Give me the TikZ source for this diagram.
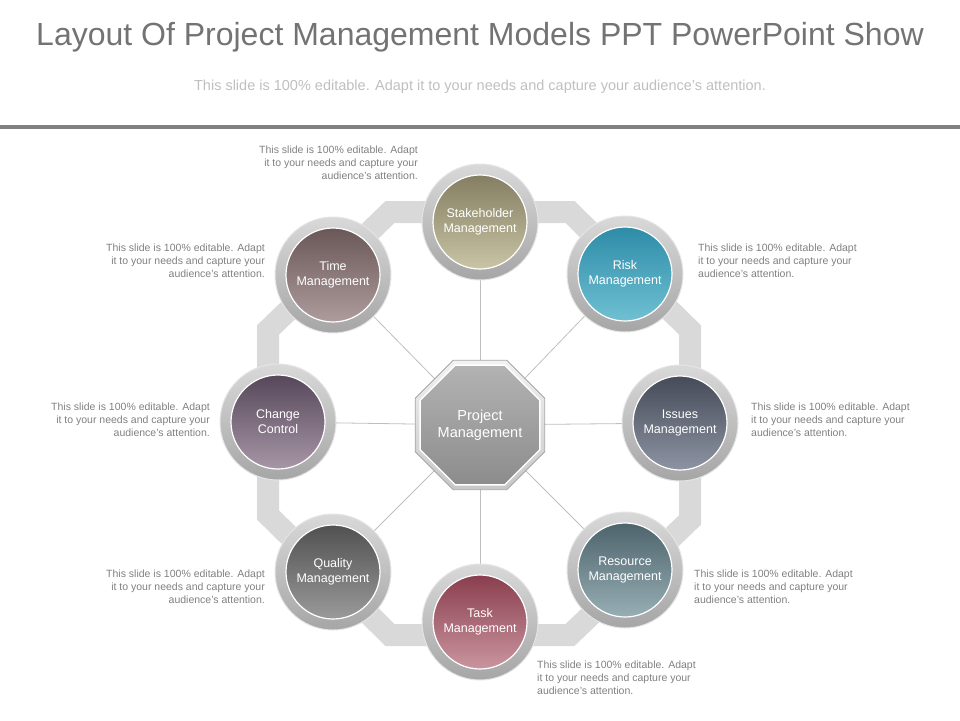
\documentclass[tikz,border=0pt]{standalone}
\usepackage{fontspec}
\setmainfont{Liberation Sans}
\usetikzlibrary{shapes.geometric}
\begin{document}
\begin{tikzpicture}[x=1pt,y=-1pt,
  ring/.style={circle,minimum size=116pt,inner sep=0pt,top color=white!85!black,bottom color=white!65!black,draw=white!90!black,line width=1pt},
  disc/.style={circle,minimum size=94pt,inner sep=0pt,draw=white,line width=1.2pt,text=white,font=\fontsize{12.5}{15}\selectfont,align=center},
  desc/.style={font=\fontsize{10.5}{13}\selectfont,text=gray,align=#1,inner sep=0pt},
  spoke/.style={draw=white!75!black,line width=0.8pt}]
\useasboundingbox (0,0) rectangle (960,720);
\node (title) at (480,37) {\fontsize{32}{36}\selectfont\color{gray!90!black}Layout Of Project Management Models PPT PowerPoint Show};
\node (sub) at (480,87) {\fontsize{14.5}{16}\selectfont\color{gray!50}This slide is 100\% editable. Adapt it to your needs and capture your audience's attention.};
\fill[gray] (0,125) rectangle (960,129);
\coordinate (c) at (480,425);
% octagon band
\draw[white!85!black,line width=22pt] (430,212)--(570,212)--(690,330)--(690,520)--(570,635)--(390,635)--(268,515)--(268,330)--(390,212)--cycle;
\foreach \p in {(480,222),(625,274),(680,423),(625,570),(480,622),(333,572),(278,422),(333,275)} {\draw[spoke] (c) -- \p;}
% center
\node[regular polygon,regular polygon sides=8,minimum size=140pt,inner sep=0pt,top color=white!95!black,bottom color=white!78!black,draw=white!65!black,line width=0.8pt] (pmo) at (c) {};
\node[regular polygon,regular polygon sides=8,minimum size=120pt,inner sep=0pt,top color=white!70!black,bottom color=white!55!black,draw=white,line width=1.5pt,text=white,align=center,font=\fontsize{14.5}{17}\selectfont] (pm) at (c) {Project\\Management};
\newcommand\circnode[5]{%
  \node[ring] (#1r) at (#2) {};
  \node[disc,top color=#3,bottom color=#4] (#1) at (#2) {#5};}
\definecolor{shA}{HTML}{857E62}\definecolor{shB}{HTML}{C9C4A6}
\definecolor{riA}{HTML}{2E8CA8}\definecolor{riB}{HTML}{6FC0D2}
\definecolor{isA}{HTML}{464B58}\definecolor{isB}{HTML}{8C93A2}
\definecolor{reA}{HTML}{4E646C}\definecolor{reB}{HTML}{97AEB5}
\definecolor{taA}{HTML}{8A3E4E}\definecolor{taB}{HTML}{C9959F}
\definecolor{quA}{HTML}{515151}\definecolor{quB}{HTML}{9A9A9A}
\definecolor{chA}{HTML}{56475A}\definecolor{chB}{HTML}{A696A6}
\definecolor{tiA}{HTML}{6A5858}\definecolor{tiB}{HTML}{AE9C9C}
\circnode{sh}{480,222}{shA}{shB}{Stakeholder\\Management}
\circnode{ri}{625,274}{riA}{riB}{Risk\\Management}
\circnode{is}{680,423}{isA}{isB}{Issues\\Management}
\circnode{re}{625,570}{reA}{reB}{Resource\\Management}
\circnode{ta}{480,622}{taA}{taB}{Task\\Management}
\circnode{qu}{333,572}{quA}{quB}{Quality\\Management}
\circnode{ch}{278,422}{chA}{chB}{Change\\Control}
\circnode{ti}{333,275}{tiA}{tiB}{Time\\Management}
% descriptions
\node[desc=right,anchor=north east] (d1) at (418,146) {This slide is 100\% editable. Adapt\\it to your needs and capture your\\audience's attention.};
\node[desc=right,anchor=north east] (d2) at (265,244) {This slide is 100\% editable. Adapt\\it to your needs and capture your\\audience's attention.};
\node[desc=right,anchor=north east] (d3) at (210,403) {This slide is 100\% editable. Adapt\\it to your needs and capture your\\audience's attention.};
\node[desc=right,anchor=north east] (d4) at (265,570) {This slide is 100\% editable. Adapt\\it to your needs and capture your\\audience's attention.};
\node[desc=left,anchor=north west] (d5) at (698,244) {This slide is 100\% editable. Adapt\\it to your needs and capture your\\audience's attention.};
\node[desc=left,anchor=north west] (d6) at (751,403) {This slide is 100\% editable. Adapt\\it to your needs and capture your\\audience's attention.};
\node[desc=left,anchor=north west] (d7) at (694,570) {This slide is 100\% editable. Adapt\\it to your needs and capture your\\audience's attention.};
\node[desc=left,anchor=north west] (d8) at (537,661) {This slide is 100\% editable. Adapt\\it to your needs and capture your\\audience's attention.};
\end{tikzpicture}
\end{document}
